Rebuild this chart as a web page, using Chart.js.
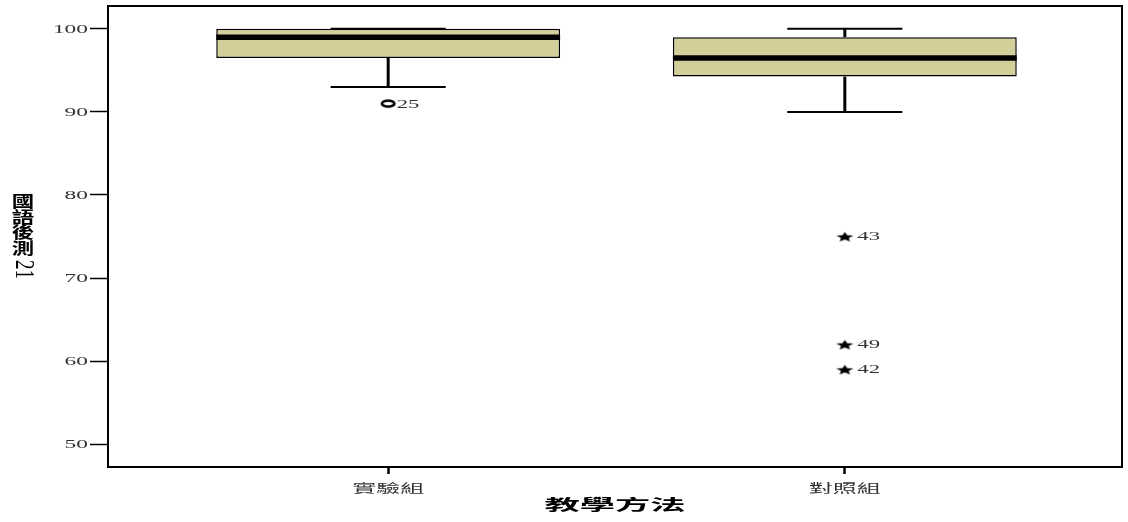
<!DOCTYPE html>
<html>
<head>
<meta charset="utf-8">
<script src="https://cdn.jsdelivr.net/npm/chart.js@4/dist/chart.umd.min.js"></script>
<style>
  html, body { margin: 0; padding: 0; background: #fff; }
  #wrap { width: 1128px; height: 522px; }
</style>
</head>
<body>
<div id="wrap"><canvas id="c" width="1128" height="522"></canvas></div>
<script>
// Box plot summary per group
const groups = ['實驗組', '對照組'];
const whiskerLow = [93, 90];
const quartile1 = [96.5, 94.25];
const medians = [99, 96.5];
const quartile3 = [100, 99];
const whiskerHigh = [100, 100];

// Outlying cases
const outlierGroup = [0, 1, 1, 1];
const outlierValue = [91, 75, 62, 59];
const outlierCase = ['25', '43', '49', '42'];
const outlierKind = ['circle', 'star', 'star', 'star'];

const yTicks = [50, 60, 70, 80, 90, 100];
const yTitleChars = ['國', '語', '後', '測'];
const yTitleTail = '21';
const xTitle = '教學方法';

// geometry in x-axis units (groups sit at 1 and 2)
const BOX_FRACTION = 0.753;
const BOX_HALF = BOX_FRACTION / 2;
const CAP_HALF = 0.126;
const BOX_FILL = '#d3cf9b';

// wide filled star marker
function starImage() {
  const w = 19, h = 12;
  const cv = document.createElement('canvas');
  cv.width = w; cv.height = h;
  const g = cv.getContext('2d');
  g.translate(w / 2, h / 2 + 0.7);
  g.scale(1.55, 0.9);
  const ro = 5.8, ri = ro * 0.45;
  g.beginPath();
  for (let i = 0; i < 10; i++) {
    const r = i % 2 === 0 ? ro : ri;
    const a = -Math.PI / 2 + i * Math.PI / 5;
    const px = r * Math.cos(a), py = r * Math.sin(a);
    if (i === 0) g.moveTo(px, py); else g.lineTo(px, py);
  }
  g.closePath();
  g.fillStyle = '#000';
  g.fill();
  return cv;
}
// wide open ring marker
function ringImage() {
  const w = 18, h = 11;
  const cv = document.createElement('canvas');
  cv.width = w; cv.height = h;
  const g = cv.getContext('2d');
  g.beginPath();
  g.ellipse(w / 2, h / 2, 6.2, 3.0, 0, 0, Math.PI * 2);
  g.lineWidth = 2.7;
  g.strokeStyle = '#000';
  g.stroke();
  return cv;
}
const star = starImage();
const ring = ringImage();

const datasets = [];
groups.forEach((name, i) => {
  const x = i + 1;
  const seg = (pts, w, order) => datasets.push({
    type: 'line', data: pts, borderColor: '#000', borderWidth: w,
    pointRadius: 0, fill: false, tension: 0, order, borderCapStyle: 'butt'
  });
  // whiskers
  seg([{x, y: whiskerLow[i]}, {x, y: quartile1[i]}], 3, 3);
  seg([{x, y: quartile3[i]}, {x, y: whiskerHigh[i]}], 3, 3);
  // caps
  seg([{x: x - CAP_HALF, y: whiskerLow[i]}, {x: x + CAP_HALF, y: whiskerLow[i]}], 2, 3);
  seg([{x: x - CAP_HALF, y: whiskerHigh[i]}, {x: x + CAP_HALF, y: whiskerHigh[i]}], 2, 3);
  // median
  seg([{x: x - BOX_HALF, y: medians[i]}, {x: x + BOX_HALF, y: medians[i]}], 5.5, 0);
});

// boxes as floating bars
datasets.push({
  type: 'bar',
  data: groups.map((g, i) => ({x: i + 1, y: [quartile1[i], quartile3[i]]})),
  backgroundColor: BOX_FILL,
  borderColor: '#000',
  borderWidth: 1.5,
  borderSkipped: false,
  categoryPercentage: 1,
  barPercentage: BOX_FRACTION,
  order: 1
});

// outliers
datasets.push({
  type: 'scatter',
  data: outlierValue.map((v, i) => ({x: outlierGroup[i] + 1, y: v})),
  pointStyle: outlierKind.map(k => k === 'star' ? star : ring),
  pointRadius: 5,
  order: 0,
  isOutliers: true
});

function wideText(ctx, text, x, y, font, sx, align, color) {
  ctx.save();
  ctx.font = font;
  ctx.fillStyle = color;
  ctx.textAlign = align;
  ctx.textBaseline = 'middle';
  ctx.translate(x, y);
  ctx.scale(sx, 1);
  ctx.fillText(text, 0, 0);
  ctx.restore();
}

const decorations = {
  id: 'decorations',
  afterDraw(chart) {
    const ctx = chart.ctx;
    const a = chart.chartArea;
    const xs = chart.scales.x, ys = chart.scales.y;
    ctx.save();
    // frame around the plot
    ctx.strokeStyle = '#000';
    ctx.lineWidth = 2;
    ctx.strokeRect(a.left, a.top, a.right - a.left, a.bottom - a.top);
    ctx.restore();

    const serif = '"Liberation Serif", serif';
    const cjk = '"Noto Sans CJK TC", sans-serif';

    // y tick labels
    yTicks.forEach(v => {
      wideText(ctx, String(v), a.left - 20, ys.getPixelForValue(v) + 0.5, '13px ' + serif, 1.8, 'right', '#333');
    });
    // x tick labels
    groups.forEach((g, i) => {
      wideText(ctx, g, xs.getPixelForValue(i + 1), a.bottom + 21.5, '12px ' + cjk, 2.0, 'center', '#333');
    });
    // x title
    wideText(ctx, xTitle, (a.left + a.right) / 2, a.bottom + 37, 'bold 15px ' + cjk, 2.35, 'center', '#000');

    // case labels next to outliers
    chart.data.datasets.forEach((ds, di) => {
      if (!ds.isOutliers) return;
      const meta = chart.getDatasetMeta(di);
      meta.data.forEach((pt, k) => {
        const dx = outlierKind[k] === 'star' ? 12.5 : 8.5;
        wideText(ctx, outlierCase[k], pt.x + dx, pt.y + 0.5, '13px ' + serif, 1.75, 'left', '#333');
      });
    });

    // vertical y-axis title
    const tx = 23;
    const cy = [201, 216.5, 232, 248];
    yTitleChars.forEach((ch, k) => wideText(ctx, ch, tx, cy[k], 'bold 16px ' + cjk, 1.4, 'center', '#000'));
    ctx.save();
    ctx.translate(tx, 269.5);
    ctx.scale(1.45, 1);
    ctx.rotate(Math.PI / 2);
    ctx.font = '19px ' + serif;
    ctx.fillStyle = '#000';
    ctx.textAlign = 'center';
    ctx.textBaseline = 'middle';
    ctx.fillText(yTitleTail, 0, 0);
    ctx.restore();
  }
};

new Chart(document.getElementById('c'), {
  data: { datasets },
  options: {
    responsive: false,
    animation: false,
    events: [],
    layout: { padding: { top: 5, right: 1, left: 0, bottom: 0 } },
    plugins: { legend: { display: false }, tooltip: { enabled: false } },
    scales: {
      x: {
        type: 'linear',
        offset: false,
        min: 1 - 281 / 458,
        max: 2 + 278 / 458,
        afterBuildTicks: s => { s.ticks = [{value: 1}, {value: 2}]; },
        afterFit: s => { s.height = 55; s.paddingLeft = 0; s.paddingRight = 0; },
        ticks: { display: false, autoSkip: false },
        grid: { offset: false, drawOnChartArea: false, drawTicks: true, tickLength: 7, tickWidth: 2.5, tickColor: '#000' },
        border: { display: false },
        title: { display: false }
      },
      y: {
        type: 'linear',
        min: 47.25,
        max: 102.75,
        afterBuildTicks: s => { s.ticks = yTicks.map(v => ({value: v})); },
        afterFit: s => { s.width = 108; s.paddingTop = 0; s.paddingBottom = 0; },
        ticks: { display: false },
        grid: { drawOnChartArea: false, drawTicks: true, tickLength: 18, tickWidth: 1.5, tickColor: '#000' },
        border: { display: false },
        title: { display: false }
      }
    }
  },
  plugins: [decorations]
});
</script>
</body>
</html>
